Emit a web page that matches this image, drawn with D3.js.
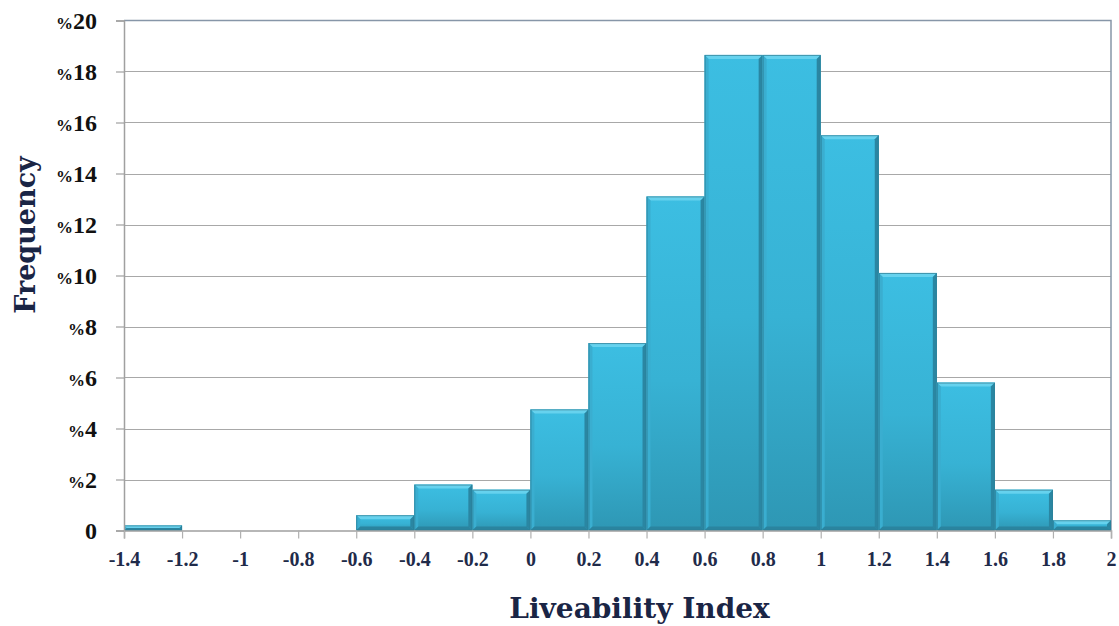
<!DOCTYPE html>
<html>
<head>
<meta charset="utf-8">
<script src="https://cdn.jsdelivr.net/npm/d3@7"></script>
<style>
  html, body { margin: 0; padding: 0; background: #fff; }
  svg { display: block; }
</style>
</head>
<body>
<svg id="chart" width="1119" height="626"></svg>
<script>
// Histogram of the liveability index: bin lower edges (width 0.2) and share of cases (%)
const binStarts = [-1.4, -1.2, -1.0, -0.8, -0.6, -0.4, -0.2, 0.0, 0.2, 0.4, 0.6, 0.8, 1.0, 1.2, 1.4, 1.6, 1.8];
const frequency = [0.2, 0, 0, 0, 0.6, 1.8, 1.6, 4.75, 7.35, 13.1, 18.65, 18.65, 15.5, 10.1, 5.8, 1.6, 0.4];
const binWidth = 0.2;
const xTicks = [-1.4, -1.2, -1, -0.8, -0.6, -0.4, -0.2, 0, 0.2, 0.4, 0.6, 0.8, 1, 1.2, 1.4, 1.6, 1.8, 2];
const yTicks = [0, 2, 4, 6, 8, 10, 12, 14, 16, 18, 20];

const svg = d3.select("#chart");
const plotLeft = 124, plotRight = 1111, plotTop = 20.5, plotBottom = 530.5;

const x = d3.scaleLinear().domain([-1.4, 2]).range([plotLeft, plotRight]);
const y = d3.scaleLinear().domain([0, 20]).range([plotBottom, plotTop]);

const defs = svg.append("defs");
const grad = defs.append("linearGradient").attr("id", "barFill")
  .attr("x1", 0).attr("y1", 0).attr("x2", 0).attr("y2", 1);
grad.append("stop").attr("offset", "0%").attr("stop-color", "#3cbee2");
grad.append("stop").attr("offset", "55%").attr("stop-color", "#37b2d4");
grad.append("stop").attr("offset", "100%").attr("stop-color", "#2e97b4");

// horizontal gridlines
svg.append("g").selectAll("line")
  .data(yTicks.filter(d => d > 0 && d < 20))
  .join("line")
  .attr("x1", plotLeft).attr("x2", plotRight)
  .attr("y1", d => Math.round(y(d)) + 0.5).attr("y2", d => Math.round(y(d)) + 0.5)
  .attr("stroke", "#a8a8a8").attr("stroke-width", 1.2);

// plot frame (top and right)
svg.append("path")
  .attr("d", `M${plotLeft},${plotTop}H${plotRight}V${plotBottom}`)
  .attr("fill", "none").attr("stroke", "#8796a8").attr("stroke-width", 1.5);

// bars with bevelled edges
const bins = binStarts.map((s, i) => ({ x0: s, x1: s + binWidth, v: frequency[i] })).filter(d => d.v > 0);
const bars = svg.append("g").selectAll("g").data(bins).join("g");

bars.each(function (d) {
  const g = d3.select(this);
  const x0 = x(d.x0), x1 = x(d.x1), yt = y(d.v), yb = y(0);
  const h = yb - yt;
  const b = Math.min(4, h / 2);
  g.append("rect").attr("x", x0).attr("y", yt).attr("width", x1 - x0).attr("height", h)
    .attr("fill", "url(#barFill)");
  // top bevel highlight
  g.append("path")
    .attr("d", `M${x0},${yt}H${x1}L${x1 - b},${yt + b}H${x0 + b}Z`)
    .attr("fill", "#66d2ee");
  g.append("line").attr("x1", x0 + 1).attr("x2", x1 - 1).attr("y1", yt + 0.5).attr("y2", yt + 0.5)
    .attr("stroke", "#8fe3f6").attr("stroke-width", 1);
  // left bevel
  g.append("path")
    .attr("d", `M${x0},${yt}L${x0 + b},${yt + b}V${yb - b}L${x0},${yb}Z`)
    .attr("fill", "#3aaed0");
  // right bevel
  g.append("path")
    .attr("d", `M${x1},${yt}L${x1 - b},${yt + b}V${yb - b}L${x1},${yb}Z`)
    .attr("fill", "#2a86a2");
  // bottom bevel
  g.append("path")
    .attr("d", `M${x0},${yb}L${x0 + b},${yb - b}H${x1 - b}L${x1},${yb}Z`)
    .attr("fill", "#2a849f");
  g.append("rect").attr("x", x0 + 0.5).attr("y", yt + 0.5).attr("width", x1 - x0 - 1).attr("height", h - 1)
    .attr("fill", "none").attr("stroke", "#2b7f98").attr("stroke-width", 1).attr("stroke-opacity", 0.8);
});

// y axis
const yAxis = svg.append("g").attr("transform", `translate(${plotLeft},0)`)
  .call(d3.axisLeft(y).tickValues(yTicks).tickSize(8).tickFormat(""));
yAxis.select(".domain").attr("stroke", "#a0a0a0").attr("stroke-width", 1.5);
yAxis.selectAll(".tick line").attr("stroke", "#a0a0a0").attr("stroke-width", 1.2);

const yLabels = svg.append("g").selectAll("text").data(yTicks).join("text")
  .attr("x", 97).attr("y", d => y(d) + 8)
  .attr("text-anchor", "end")
  .attr("font-family", "'Liberation Serif', 'DejaVu Serif', serif")
  .attr("font-weight", "bold").attr("fill", "#111");
yLabels.each(function (d) {
  const t = d3.select(this);
  if (d === 0) {
    t.append("tspan").attr("font-size", 24).text("0");
  } else {
    t.append("tspan").attr("font-size", 17).text("%");
    t.append("tspan").attr("font-size", 24).text(String(d));
  }
});

// x axis
const xAxis = svg.append("g").attr("transform", `translate(0,${plotBottom})`)
  .call(d3.axisBottom(x).tickValues(xTicks).tickSize(8).tickPadding(13)
    .tickFormat(d => String(+d.toFixed(1))));
xAxis.select(".domain").attr("stroke", "#a0a0a0").attr("stroke-width", 1.5);
xAxis.selectAll(".tick line").attr("stroke", "#b0b0b0").attr("stroke-width", 1.2);
xAxis.selectAll(".tick text")
  .attr("font-family", "'Liberation Serif', 'DejaVu Serif', serif")
  .attr("font-weight", "bold").attr("font-size", 20).attr("fill", "#1f2b4a");

// axis titles
svg.append("text")
  .attr("x", (plotLeft + plotRight) / 2 + 22).attr("y", 618)
  .attr("text-anchor", "middle")
  .attr("font-family", "'DejaVu Serif', serif")
  .attr("font-weight", "bold").attr("font-size", 28).attr("fill", "#1a2545")
  .text("Liveability Index");

svg.append("text")
  .attr("transform", "translate(35,235) rotate(-90)")
  .attr("text-anchor", "middle")
  .attr("font-family", "'DejaVu Serif', serif")
  .attr("font-weight", "bold").attr("font-size", 27).attr("fill", "#1a2545")
  .text("Frequency");
</script>
</body>
</html>
